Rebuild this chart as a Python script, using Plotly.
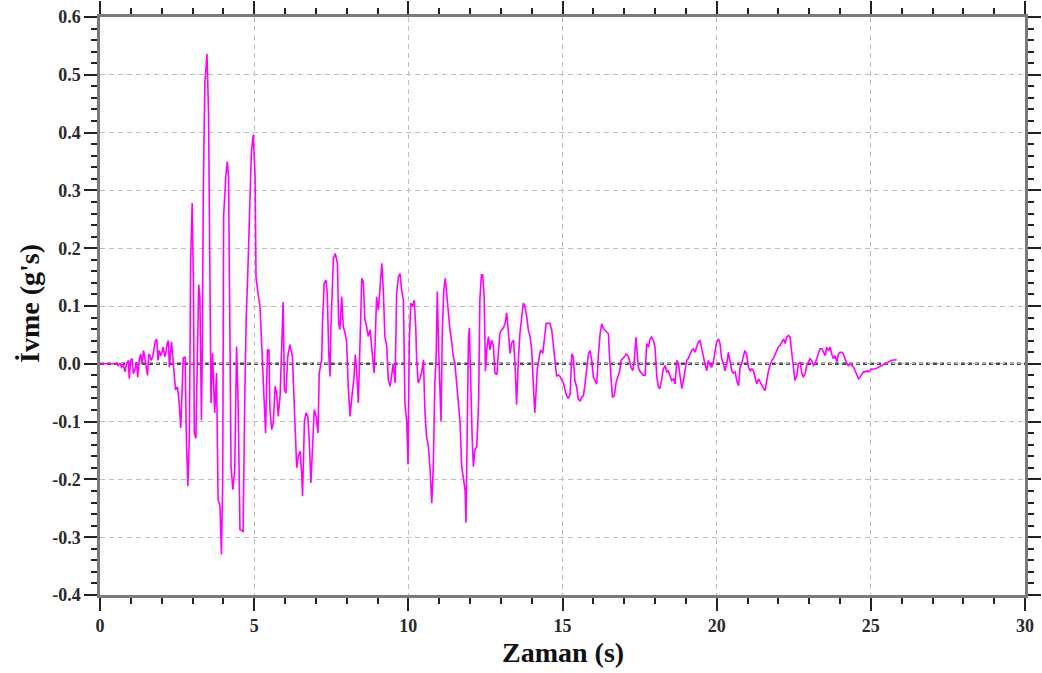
import plotly.graph_objects as go

# Ground acceleration record (time in s, acceleration in g)
time_s = [
    0.0, 0.54, 0.59, 0.65, 0.70, 0.76, 0.81, 0.86, 0.92, 0.95, 0.99, 1.04, 1.08, 1.14, 1.19,
    1.22, 1.28, 1.32, 1.36, 1.41, 1.45, 1.49, 1.54, 1.58, 1.62, 1.66, 1.71, 1.75, 1.79, 1.84,
    1.88, 1.92, 1.97, 2.01, 2.05, 2.10, 2.14, 2.18, 2.22, 2.25, 2.29, 2.32, 2.36,
    2.40, 2.45, 2.51, 2.56, 2.62, 2.66, 2.70, 2.76, 2.80, 2.85, 2.90, 2.94, 2.99, 3.03, 3.06,
    3.11, 3.16, 3.20, 3.24, 3.29, 3.32, 3.35, 3.40, 3.47, 3.52, 3.57, 3.60, 3.65, 3.72, 3.78,
    3.83, 3.89, 3.94, 3.98, 4.01, 4.08, 4.13, 4.17, 4.22, 4.25, 4.31, 4.37, 4.43, 4.48, 4.54,
    4.64, 4.69, 4.74, 4.79, 4.85, 4.91, 4.97, 5.03, 5.06, 5.10,
    5.14, 5.19, 5.27, 5.32, 5.37, 5.43, 5.48, 5.51, 5.57, 5.62, 5.68, 5.73, 5.78, 5.84, 5.89,
    5.94, 5.98, 6.03, 6.09, 6.16, 6.24, 6.27, 6.33, 6.38, 6.43, 6.49, 6.54, 6.57, 6.63, 6.68,
    6.74, 6.79, 6.84, 6.90, 6.95, 7.01, 7.07, 7.11, 7.19, 7.22, 7.27, 7.33, 7.37, 7.42, 7.46,
    7.49, 7.57, 7.63, 7.70, 7.74, 7.78, 7.84, 7.89, 7.95, 8.00, 8.05, 8.11, 8.16, 8.24, 8.28,
    8.32, 8.38, 8.43, 8.49, 8.54, 8.59, 8.65, 8.70, 8.76, 8.81, 8.89, 8.92, 8.97, 9.03, 9.08,
    9.14, 9.19, 9.24, 9.30, 9.35, 9.41, 9.46, 9.51, 9.57, 9.62, 9.68, 9.73, 9.78, 9.84, 9.89,
    9.95, 9.99, 10.03, 10.08, 10.14, 10.19, 10.24,
    10.27, 10.32, 10.38, 10.43, 10.49, 10.54, 10.59, 10.65, 10.70, 10.76, 10.81, 10.86, 10.90,
    10.94, 10.98, 11.03, 11.06, 11.10, 11.15, 11.20, 11.24, 11.30, 11.35, 11.41, 11.46, 11.51,
    11.57, 11.62, 11.68, 11.73, 11.78, 11.84, 11.87, 11.91, 11.95, 11.98, 12.02, 12.07, 12.11,
    12.16, 12.22, 12.28, 12.32, 12.37, 12.41, 12.46, 12.50, 12.54, 12.60, 12.65, 12.70, 12.76,
    12.81, 12.87, 12.92, 12.97, 13.03, 13.08, 13.14, 13.19, 13.24, 13.30, 13.35, 13.41, 13.46,
    13.51, 13.57, 13.62, 13.68, 13.73, 13.78, 13.84, 13.89, 13.95, 14.00, 14.05, 14.10, 14.14,
    14.18, 14.25, 14.29, 14.36, 14.41, 14.47, 14.52, 14.59, 14.65, 14.70, 14.76, 14.81, 14.86,
    14.92, 14.97, 15.03, 15.08, 15.14, 15.19,
    15.25, 15.30, 15.35, 15.40, 15.46, 15.51, 15.57, 15.62, 15.68, 15.73, 15.78, 15.84, 15.89,
    15.95, 16.00, 16.05, 16.11, 16.16, 16.22, 16.27, 16.33, 16.38, 16.43, 16.49, 16.52, 16.57,
    16.62, 16.68, 16.74, 16.79, 16.85, 16.90, 16.95, 17.01, 17.06, 17.12, 17.17, 17.22, 17.28,
    17.33, 17.38, 17.42, 17.46, 17.52, 17.57, 17.63, 17.68, 17.73, 17.79, 17.84, 17.89, 17.95,
    18.00, 18.06, 18.11, 18.16, 18.22, 18.27, 18.33, 18.38, 18.43, 18.49, 18.54, 18.60, 18.65,
    18.71, 18.76, 18.81, 18.87, 18.92, 18.98, 19.03, 19.08, 19.14, 19.19, 19.25, 19.30, 19.35,
    19.41, 19.46, 19.52, 19.57, 19.62, 19.68, 19.73, 19.79, 19.84, 19.89, 19.95, 20.00, 20.06,
    20.11, 20.16, 20.22, 20.27, 20.33, 20.38, 20.43, 20.49, 20.54,
    20.60, 20.65, 20.71, 20.76, 20.81, 20.87, 20.92, 20.98, 21.03, 21.09, 21.14, 21.19, 21.25,
    21.30, 21.36, 21.41, 21.46, 21.52, 21.57, 21.63, 21.68, 21.73, 21.79, 21.84, 21.90, 21.95,
    22.00, 22.06, 22.11, 22.17, 22.22, 22.27, 22.33, 22.38, 22.44, 22.49, 22.54, 22.60, 22.65,
    22.71, 22.76, 22.81, 22.87, 22.92, 22.98, 23.03, 23.08, 23.14, 23.19, 23.25, 23.30, 23.35,
    23.41, 23.46, 23.52, 23.57, 23.63, 23.68, 23.73, 23.79, 23.84, 23.90, 23.95, 24.00, 24.06,
    24.11, 24.17, 24.22, 24.27, 24.33, 24.38, 24.44, 24.49, 24.54, 24.60, 24.65, 24.71, 24.76,
    24.81, 24.87, 24.92, 24.98, 25.03, 25.14, 25.25, 25.36, 25.46, 25.57, 25.68, 25.84,
]

accel_g = [
    0.0, 0.0, -0.003, 0.001, -0.006, -0.003, -0.014, 0.0, 0.006, -0.026, 0.006, 0.009, -0.017, -0.009, 0.003,
    -0.023, 0.009, 0.017, 0.0, 0.023, 0.012, -0.006, -0.020, 0.017, 0.014, 0.006, 0.012, 0.026, 0.038, 0.043,
    0.006, 0.023, 0.014, 0.020, 0.029, 0.012, 0.020, 0.035, 0.040, -0.006, 0.032, 0.038, 0.012,
    -0.016, -0.045, -0.040, -0.062, -0.111, -0.028, 0.010, 0.012, -0.126, -0.212, -0.120, 0.180, 0.278, 0.137, -0.120,
    -0.129, 0.053, 0.137, 0.116, -0.097, 0.036, 0.295, 0.485, 0.536, 0.436, 0.030, -0.068, 0.018, -0.085, -0.016,
    -0.235, -0.245, -0.330, -0.200, 0.255, 0.324, 0.350, 0.324, 0.047, -0.178, -0.218, -0.183, 0.030, -0.068, -0.287,
    -0.290, -0.080, 0.076, 0.151, 0.278, 0.367, 0.396, 0.324, 0.150, 0.128,
    0.116, 0.099, 0.000, -0.079, -0.120, 0.024, 0.024, -0.079, -0.114, -0.102, -0.039, -0.051, -0.091, -0.056, 0.013,
    0.107, -0.045, -0.051, 0.013, 0.033, 0.013, -0.033, -0.108, -0.180, -0.160, -0.151, -0.189, -0.229, -0.099, -0.085,
    -0.091, -0.137, -0.206, -0.148, -0.079, -0.091, -0.120, -0.016, 0.007, 0.076, 0.139, 0.145, 0.122, 0.018, -0.022,
    0.064, 0.182, 0.191, 0.174, 0.070, 0.059, 0.116, 0.064, 0.053, 0.036, -0.039, -0.091, -0.062, -0.022, 0.016,
    -0.010, -0.068, 0.013, 0.148, 0.142, 0.076, 0.064, 0.047, 0.059, 0.033, -0.016, 0.030, 0.116, 0.093, 0.133,
    0.174, 0.125, 0.047, 0.030, -0.028, -0.039, -0.016, 0.000, -0.033, 0.122, 0.151, 0.156, 0.128, 0.110, -0.068,
    -0.102, -0.174, 0.036, 0.105, 0.099, 0.110, 0.064,
    0.007, -0.033, -0.025, -0.016, 0.007, -0.085, -0.126, -0.143, -0.178, -0.241, -0.177, -0.033, 0.010,
    0.125, 0.030, -0.068, -0.100, 0.053, 0.128, 0.148, 0.122, 0.076, 0.059, 0.036, 0.012, 0.001,
    -0.039, -0.068, -0.103, -0.178, -0.195, -0.218, -0.275, -0.062, 0.044, 0.062, -0.033, -0.126, -0.178,
    -0.149, -0.143, -0.068, 0.111, 0.154, 0.154, 0.116, -0.013, 0.024, 0.047, 0.024, 0.041, 0.030,
    -0.016, -0.019, 0.018, 0.053, 0.059, 0.062, 0.070, 0.088, 0.059, 0.018, 0.036, 0.041, 0.001,
    -0.071, 0.007, 0.053, 0.082, 0.105, 0.099, 0.082, 0.059, 0.047, 0.024, -0.045, -0.085, -0.051,
    -0.010, 0.013, 0.024, 0.018, 0.041, 0.070, 0.070, 0.070, 0.059, 0.030, 0.001, -0.022, -0.019,
    -0.022, -0.028, -0.033, -0.045, -0.056, -0.060,
    -0.052, 0.017, 0.012, -0.029, -0.040, -0.061, -0.064, -0.058, -0.055, -0.035, -0.006, 0.017, 0.023,
    0.006, -0.023, -0.029, -0.035, 0.012, 0.052, 0.069, 0.061, 0.058, 0.055, 0.052, 0.017, -0.017,
    -0.058, -0.055, -0.032, -0.023, -0.014, 0.006, 0.009, 0.012, 0.017, 0.014, 0.006, -0.006, -0.012,
    0.006, 0.046, 0.023, -0.006, -0.014, -0.017, -0.020, -0.020, 0.035, 0.029, 0.043, 0.046, 0.040,
    0.029, -0.023, -0.040, -0.043, -0.026, -0.009, -0.003, -0.014, -0.012, -0.020, -0.029, -0.026, -0.035,
    0.006, 0.000, -0.020, -0.043, -0.029, -0.012, 0.006, 0.009, 0.017, 0.023, 0.026, 0.020, 0.029,
    0.038, 0.040, 0.023, 0.009, 0.000, -0.012, 0.006, -0.003, -0.006, 0.003, 0.023, 0.038, 0.043,
    0.035, 0.009, 0.000, -0.012, 0.000, 0.020, 0.006, -0.012, -0.016,
    -0.014, -0.029, -0.038, -0.006, 0.000, 0.014, 0.023, 0.014, -0.006, -0.012, -0.009, -0.012, -0.023,
    -0.035, -0.026, -0.032, -0.038, -0.043, -0.046, -0.023, -0.012, -0.003, 0.006, 0.009, 0.017, 0.023,
    0.029, 0.032, 0.038, 0.043, 0.035, 0.046, 0.049, 0.046, 0.017, -0.006, -0.029, -0.020, 0.000,
    0.003, -0.017, -0.023, -0.017, -0.003, 0.003, 0.009, 0.006, -0.003, 0.000, 0.009, 0.017, 0.026,
    0.026, 0.020, 0.014, 0.029, 0.023, 0.029, 0.017, 0.009, 0.014, 0.003, 0.017, 0.020, 0.020,
    0.017, 0.009, 0.000, -0.003, 0.000, -0.003, -0.006, -0.012, -0.020, -0.026, -0.023, -0.017, -0.014,
    -0.014, -0.012, -0.014, -0.012, -0.009, -0.009, -0.006, -0.003, 0.000, 0.003, 0.006, 0.007,
]

x_tick_vals = [0, 5, 10, 15, 20, 25, 30]
x_tick_text = ["0", "5", "10", "15", "20", "25", "30"]
y_tick_vals = [-0.4, -0.3, -0.2, -0.1, 0.0, 0.1, 0.2, 0.3, 0.4, 0.5, 0.6]
y_tick_text = ["-0.4", "-0.3", "-0.2", "-0.1", "0.0", "0.1", "0.2", "0.3", "0.4", "0.5", "0.6"]
x_title = "Zaman (s)"
y_title = "İvme (g's)"

serif = "Liberation Serif, Times New Roman, serif"
frame_col = "#7a7a7a"
grid_col = "#bdbdbd"

fig = go.Figure()
fig.add_trace(go.Scatter(
    x=time_s, y=accel_g, mode="lines",
    line=dict(color="#ff00ff", width=1.6),
    showlegend=False, hoverinfo="skip",
))

# dotted zero reference line
fig.add_shape(type="line", xref="x", yref="y", x0=0, x1=30, y0=0, y1=0,
              line=dict(color="#4a4a4a", width=2.5, dash="4px,3px"), layer="below")

axis_common = dict(
    showline=True, linecolor=frame_col, linewidth=2.5, mirror="allticks",
    ticks="outside", ticklen=13, tickwidth=1.5, tickcolor="#222",
    showgrid=True, gridcolor=grid_col, griddash="5px,4px", gridwidth=1,
    zeroline=False, automargin=False,
    tickfont=dict(family=serif, size=18, color="#2a2a2a"),
)

fig.update_xaxes(
    range=[0, 30], tickmode="array", tickvals=x_tick_vals,
    ticktext=["<b>" + t + "</b>" for t in x_tick_text],
    minor=dict(dtick=1, ticks="outside", ticklen=6, tickwidth=1.5, tickcolor="#222", showgrid=False),
    **axis_common,
)
fig.update_yaxes(
    range=[-0.4, 0.6], tickmode="array", tickvals=y_tick_vals,
    ticktext=["<b>" + t + "</b>" for t in y_tick_text],
    minor=dict(dtick=0.02, tick0=0, ticks="outside", ticklen=6, tickwidth=1.5, tickcolor="#222", showgrid=False),
    **axis_common,
)

fig.add_annotation(text="<b>" + x_title + "</b>", xref="paper", yref="paper", x=0.5, y=-0.100,
                   xanchor="center", yanchor="middle", showarrow=False,
                   font=dict(family=serif, size=28, color="#111"))
fig.add_annotation(text="<b>" + y_title + "</b>", xref="paper", yref="paper", x=-0.077, y=0.505,
                   xanchor="center", yanchor="middle", showarrow=False, textangle=-90,
                   font=dict(family=serif, size=28, color="#111"))

fig.update_layout(
    width=1042, height=673,
    margin=dict(l=100, r=17, t=17, b=78),
    paper_bgcolor="white", plot_bgcolor="white",
    font=dict(family=serif),
)

fig.write_html("out.html")
